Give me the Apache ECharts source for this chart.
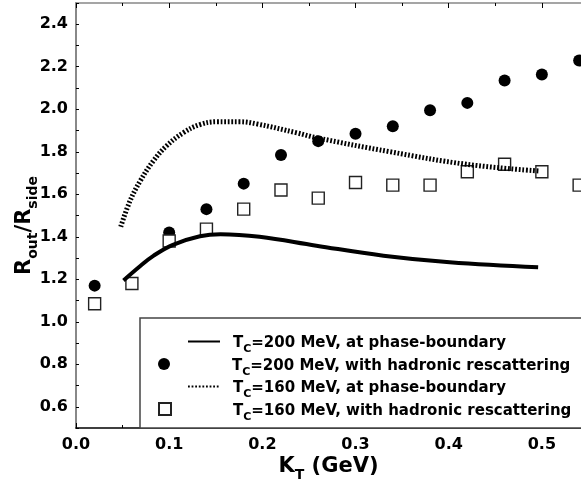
<!DOCTYPE html>
<html>
<head>
<meta charset="utf-8">
<script src="https://cdn.jsdelivr.net/npm/echarts@6/dist/echarts.min.js"></script>
<style>html,body{margin:0;padding:0;background:#fff}#c{width:581px;height:479px}</style>
</head>
<body>
<div id="c"></div>
<script>
// K_T values (GeV) of the hadronic rescattering points
var ktPoints = [0.02, 0.06, 0.10, 0.14, 0.18, 0.22, 0.26, 0.30, 0.34, 0.38, 0.42, 0.46, 0.50, 0.54];
// Tc=200 MeV with hadronic rescattering (filled circles)
var rescat200 = [1.17, 1.18, 1.42, 1.53, 1.65, 1.785, 1.85, 1.885, 1.92, 1.995, 2.03, 2.135, 2.163, 2.229];
// Tc=160 MeV with hadronic rescattering (open squares)
var rescat160 = [1.085, 1.18, 1.38, 1.436, 1.53, 1.62, 1.582, 1.655, 1.643, 1.643, 1.706, 1.741, 1.706, 1.643];
// Tc=200 MeV at phase boundary (solid curve)
var ktPB200 = [0.051, 0.069, 0.083, 0.104, 0.133, 0.155, 0.197, 0.258, 0.330, 0.401, 0.496];
var pb200 = [1.194, 1.262, 1.310, 1.362, 1.402, 1.412, 1.400, 1.358, 1.311, 1.280, 1.256];
// Tc=160 MeV at phase boundary (dotted curve)
var ktPB160 = [0.048, 0.058, 0.069, 0.083, 0.097, 0.115, 0.133, 0.151, 0.176, 0.194, 0.237, 0.258, 0.337, 0.419, 0.498];
var pb160 = [1.447, 1.569, 1.663, 1.757, 1.827, 1.889, 1.928, 1.941, 1.941, 1.931, 1.889, 1.866, 1.800, 1.741, 1.709];
// legend labels
var seriesNames = ['pb200', 'rs200', 'pb160', 'rs160'];
var legendTc = ['200', '200', '160', '160'];
var legendDesc = ['at phase-boundary', 'with hadronic rescattering', 'at phase-boundary', 'with hadronic rescattering'];

function zip(xs, ys) { return xs.map(function (x, i) { return [x, ys[i]]; }); }

var FONT = 'DejaVu Sans';
var legendRich = {
  a: { fontFamily: FONT, fontWeight: 'bold', fontSize: 15, color: '#000', verticalAlign: 'top', padding: [0, 0, 4, 0] },
  s: { fontFamily: FONT, fontWeight: 'bold', fontSize: 11, color: '#000', verticalAlign: 'bottom' }
};
function legendFmt(name) {
  var i = seriesNames.indexOf(name);
  return '{a|T}{s|C}{a|=' + legendTc[i] + ' MeV, ' + legendDesc[i] + '}';
}
function makeLegend(i, left, top, w, h, padLeft, isLine) {
  var l = {
    data: [seriesNames[i]], left: left, top: top, padding: 0,
    itemWidth: w, itemHeight: h, selectedMode: false, z: 10,
    formatter: legendFmt,
    textStyle: { rich: legendRich, padding: [8, 0, 0, padLeft] }
  };
  if (isLine) l.itemStyle = { color: 'rgba(0,0,0,0)', borderColor: 'rgba(0,0,0,0)', borderWidth: 0 };
  return l;
}
var nameRich = {
  a: { fontFamily: FONT, fontWeight: 'bold', fontSize: 21, color: '#000', verticalAlign: 'top', padding: [0, 0, 5, 0] },
  s: { fontFamily: FONT, fontWeight: 'bold', fontSize: 14, color: '#000', verticalAlign: 'bottom' }
};

var chart = echarts.init(document.getElementById('c'), null, { renderer: 'canvas' });
chart.setOption({
  animation: false,
  backgroundColor: '#fff',
  grid: { left: 76, right: 0, top: 3, bottom: 51, containLabel: false, outerBoundsMode: 'none' },
  xAxis: [{
    type: 'value', min: 0, max: 0.542, interval: 0.1,
    name: '{a|K}{s|T}{a| (GeV)}', nameLocation: 'middle', nameGap: 28, nameMoveOverlap: false,
    nameTextStyle: { rich: nameRich },
    axisLine: { show: true, onZero: false, lineStyle: { color: '#000', width: 1.5 } },
    axisTick: { show: true, inside: true, length: 5, lineStyle: { color: '#000', width: 1 } },
    minorTick: { show: true, splitNumber: 2, length: 3, lineStyle: { color: '#000', width: 1 } },
    splitLine: { show: false },
    axisLabel: { margin: 9, fontFamily: FONT, fontWeight: 'bold', fontSize: 16, color: '#000',
      formatter: function (v) { var r = Math.round(v * 10); return Math.abs(v * 10 - r) < 1e-6 ? (r / 10).toFixed(1) : ''; } }
  }, {
    type: 'value', position: 'top', min: 0, max: 0.542, interval: 0.1,
    axisLine: { show: true, onZero: false, lineStyle: { color: '#888', width: 1.5 } },
    axisTick: { show: true, inside: true, length: 5, lineStyle: { color: '#000', width: 1 } },
    minorTick: { show: true, splitNumber: 2, length: 3, lineStyle: { color: '#000', width: 1 } },
    splitLine: { show: false }, axisLabel: { show: false }
  }],
  yAxis: {
    type: 'value', min: 0.5, max: 2.5, interval: 0.1,
    name: '{a|R}{s|out}{a|/R}{s|side}', nameLocation: 'middle', nameGap: 36, nameMoveOverlap: false,
    nameTextStyle: { rich: nameRich, padding: [0, 20, 0, 0] },
    axisLine: { show: true, onZero: false, lineStyle: { color: '#888', width: 2 } },
    axisTick: { show: true, inside: true, length: 3, lineStyle: { color: '#000', width: 1 } },
    splitLine: { show: false },
    axisLabel: { margin: 8, fontFamily: FONT, fontWeight: 'bold', fontSize: 16, color: '#000',
      formatter: function (v) { var r = Math.round(v * 10); return r % 2 === 0 ? (r / 10).toFixed(1) : ''; } }
  },
  graphic: [{
    type: 'rect', z: 5, shape: { x: 140, y: 318, width: 460, height: 110 },
    style: { fill: '#fff', stroke: '#444', lineWidth: 1.5 }
  }],
  legend: [
    makeLegend(0, 187, 336, 32, 8, 8, true),
    makeLegend(1, 158, 358, 12, 12, 57, false),
    makeLegend(2, 187, 381, 32, 8, 8, true),
    makeLegend(3, 158, 402, 12, 12, 57, false)
  ],
  series: [{
    name: 'pb200', type: 'line', smooth: 0.4, showSymbol: false, symbol: 'none',
    data: zip(ktPB200, pb200), lineStyle: { color: '#000', width: 4 }, itemStyle: { color: '#000' }
  }, {
    name: 'rs200', type: 'scatter', symbol: 'circle', symbolSize: 12,
    data: zip(ktPoints, rescat200), itemStyle: { color: '#000', opacity: 1 }
  }, {
    name: 'pb160', type: 'line', smooth: 0.4, showSymbol: false, symbol: 'none',
    data: zip(ktPB160, pb160), lineStyle: { color: '#000', width: 5, type: [1.8, 1.8] }, itemStyle: { color: '#000' }
  }, {
    name: 'rs160', type: 'scatter', symbol: 'rect', symbolSize: 12,
    data: zip(ktPoints, rescat160), itemStyle: { color: '#fff', borderColor: '#222', borderWidth: 1.4, opacity: 1 }
  }]
});
</script>
</body>
</html>
